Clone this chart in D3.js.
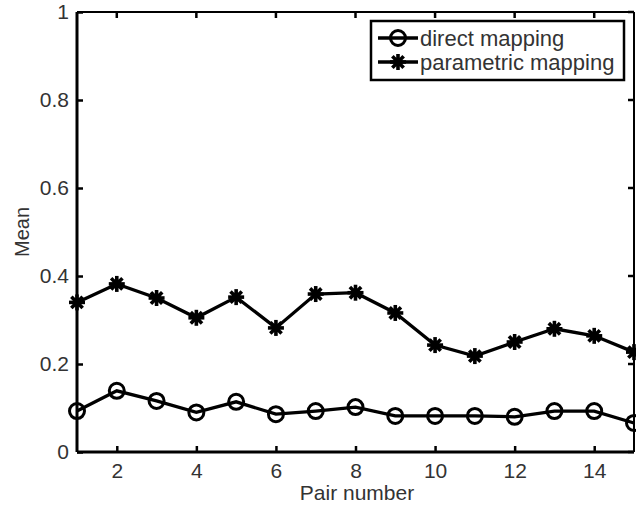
<!DOCTYPE html>
<html><head><meta charset="utf-8">
<script src="https://cdn.jsdelivr.net/npm/d3@7"></script>
<style>
html,body{margin:0;padding:0;background:#fff;}
svg text{font-family:"Liberation Sans",Arial,sans-serif;fill:#333;}
</style></head>
<body><svg id="c" width="636" height="508"></svg>
<script>
const pairs = [1,2,3,4,5,6,7,8,9,10,11,12,13,14,15];
const directMapping = [0.093,0.139,0.116,0.090,0.114,0.086,0.093,0.102,0.082,0.082,0.082,0.080,0.093,0.093,0.066];
const parametricMapping = [0.340,0.382,0.350,0.305,0.352,0.282,0.359,0.362,0.316,0.243,0.218,0.250,0.280,0.264,0.227];
const xTicks = [2,4,6,8,10,12,14];
const yTicks = [0,0.2,0.4,0.6,0.8,1];
const yTickLabels = ["0","0.2","0.4","0.6","0.8","1"];
const seriesNames = ["direct mapping","parametric mapping"];

const svg = d3.select("#c");
const L=77, R=634, T=12, B=452;
const x = d3.scaleLinear().domain([1,15]).range([L,R]);
const y = d3.scaleLinear().domain([0,1]).range([B,T]);

const g = svg.append("g");
g.append("line").attr("x1",L).attr("x2",R).attr("y1",T).attr("y2",T).attr("stroke","#000").attr("stroke-width",2);
g.append("line").attr("x1",R).attr("x2",R).attr("y1",T).attr("y2",B).attr("stroke","#000").attr("stroke-width",2);

const xAxis = d3.axisBottom(x).tickValues(xTicks).tickSize(-6).tickPadding(11).tickFormat(d3.format("d"));
const xa = svg.append("g").attr("transform",`translate(0,${B})`).call(xAxis);
const yAxis = d3.axisLeft(y).tickValues(yTicks).tickSize(-6).tickPadding(8).tickFormat((d,i)=>yTickLabels[i]);
const ya = svg.append("g").attr("transform",`translate(${L},0)`).call(yAxis);
[xa,ya].forEach(a=>{
  a.select(".domain").attr("stroke","#000").attr("stroke-width",3);
  a.selectAll(".tick line").attr("stroke","#000").attr("stroke-width",2.5);
  a.selectAll("text").style("font-size","21px").attr("fill","#333");
});
xa.select(".domain").attr("d",`M${L},0H${R}`);
ya.select(".domain").attr("d",`M0,${B}V${T}`);
svg.append("g").selectAll("line").data(xTicks).join("line")
  .attr("x1",d=>x(d)).attr("x2",d=>x(d)).attr("y1",T).attr("y2",T+6).attr("stroke","#000").attr("stroke-width",2.5);
svg.append("g").selectAll("line").data(yTicks).join("line")
  .attr("x1",R).attr("x2",R-6).attr("y1",d=>y(d)).attr("y2",d=>y(d)).attr("stroke","#000").attr("stroke-width",2.5);

svg.append("text").attr("x",357).attr("y",500).attr("text-anchor","middle").style("font-size","21px").text("Pair number");
svg.append("text").attr("transform","translate(29,232) rotate(-90)").attr("text-anchor","middle").style("font-size","20px").text("Mean");

const line = d3.line().x((d,i)=>x(pairs[i])).y(d=>y(d));
function star(sel,cx,cy,r){
  const gg = sel.append("g").attr("transform",`translate(${cx},${cy})`);
  [0,45,90,135].forEach(a=>{
    const rad=a*Math.PI/180;
    gg.append("line").attr("x1",-r*Math.cos(rad)).attr("y1",-r*Math.sin(rad))
      .attr("x2",r*Math.cos(rad)).attr("y2",r*Math.sin(rad)).attr("stroke","#000").attr("stroke-width",3.6);
  });
  gg.append("circle").attr("r",4.5).attr("fill","#000");
}
function circ(sel,cx,cy){
  sel.append("circle").attr("cx",cx).attr("cy",cy).attr("r",7.5).attr("fill","none").attr("stroke","#000").attr("stroke-width",3);
}
svg.append("path").datum(directMapping).attr("d",line).attr("fill","none").attr("stroke","#000").attr("stroke-width",3.3);
svg.append("path").datum(parametricMapping).attr("d",line).attr("fill","none").attr("stroke","#000").attr("stroke-width",3.3);
const mg = svg.append("g");
directMapping.forEach((v,i)=>circ(mg,x(pairs[i]),y(v)));
parametricMapping.forEach((v,i)=>star(mg,x(pairs[i]),y(v),8));

const lg = svg.append("g");
lg.append("rect").attr("x",371).attr("y",21).attr("width",253).attr("height",59).attr("fill","#fff").attr("stroke","#000").attr("stroke-width",2.5);
[38,62].forEach((ly,i)=>{
  lg.append("line").attr("x1",378).attr("x2",418).attr("y1",ly).attr("y2",ly).attr("stroke","#000").attr("stroke-width",3.3);
  if(i===0) circ(lg,398,ly); else star(lg,398,ly,8);
  lg.append("text").attr("x",420).attr("y",ly).attr("dy","0.35em").style("font-size","22px").text(seriesNames[i]);
});
</script></body></html>
